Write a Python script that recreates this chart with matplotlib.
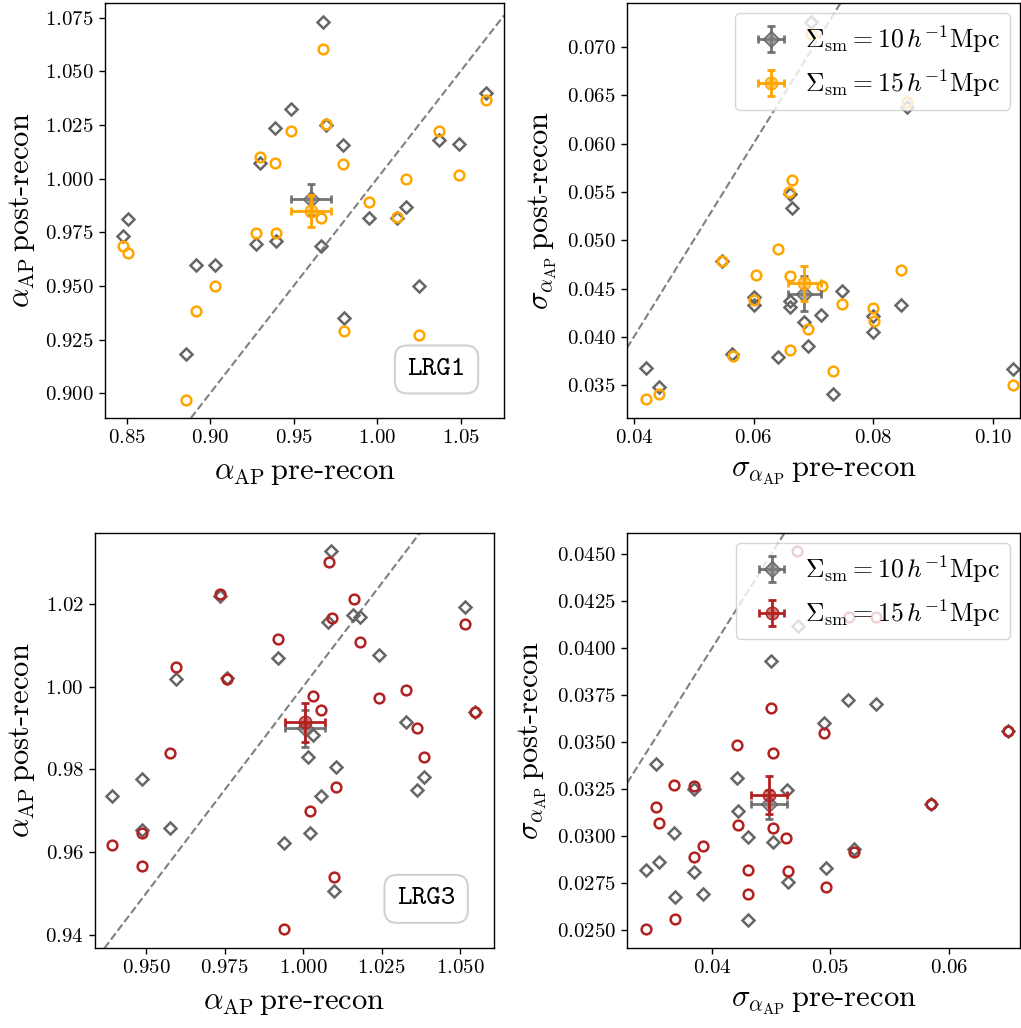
import numpy as np
import matplotlib
matplotlib.use("Agg")
import matplotlib.pyplot as plt
from matplotlib.ticker import MultipleLocator
from matplotlib.colors import to_rgba

plt.rcParams['font.family'] = 'serif'
plt.rcParams['font.serif'] = ['cmr10']
plt.rcParams['mathtext.fontset'] = 'cm'
plt.rcParams['axes.formatter.use_mathtext'] = True
plt.rcParams['axes.unicode_minus'] = False

# ---- LRG1: alpha_AP (smoothing 10 vs 15 Mpc/h) ----
lrg1_a_pre_10 = [0.9678, 1.065, 0.9484, 0.9388, 0.9692, 0.9795, 1.0368, 1.0488, 0.930, 0.851, 0.8476,
                 0.9274, 0.9394, 0.9664, 0.9953, 1.0117, 1.0173, 0.8913, 0.9027, 1.0249, 0.9803, 0.8857]
lrg1_a_post_10 = [1.0731, 1.0398, 1.0323, 1.0236, 1.0250, 1.0155, 1.0179, 1.0161, 1.0074, 0.9812, 0.9734,
                  0.9694, 0.9710, 0.9688, 0.9817, 0.9817, 0.9869, 0.9598, 0.9598, 0.9498, 0.9352, 0.9185]
lrg1_a_pre_15 = [0.9678, 1.065, 0.9484, 0.9692, 1.0368, 0.930, 0.9388, 0.9795, 1.0173, 1.0488, 0.9953,
                 1.0117, 0.9664, 0.9274, 0.9394, 0.8476, 0.851, 0.9027, 0.8913, 0.9803, 1.0249, 0.8857]
lrg1_a_post_15 = [1.0604, 1.0365, 1.0224, 1.0253, 1.0222, 1.0101, 1.0071, 1.0068, 1.0000, 1.0019, 0.9891,
                  0.9821, 0.9817, 0.9745, 0.9745, 0.9686, 0.9654, 0.9501, 0.9383, 0.9289, 0.9270, 0.8969]
lrg1_a_mean_10 = (0.9602, 0.9904, 0.0119, 0.0073)   # x, y, xerr, yerr
lrg1_a_mean_15 = (0.9602, 0.9849, 0.0120, 0.0073)

# ---- LRG1: sigma alpha_AP ----
lrg1_s_pre_10 = [0.06958, 0.08558, 0.06608, 0.06648, 0.0547, 0.06006, 0.06006, 0.06608, 0.06608, 0.07482,
                 0.07133, 0.06851, 0.06907, 0.06411, 0.05639, 0.0800, 0.0800, 0.08468, 0.04197, 0.04423,
                 0.07324, 0.10327]
lrg1_s_post_10 = [0.07258, 0.06381, 0.05476, 0.05338, 0.04787, 0.04409, 0.04330, 0.04368, 0.04309, 0.04478,
                  0.04230, 0.04151, 0.03903, 0.03789, 0.03827, 0.04220, 0.04048, 0.04333, 0.03680, 0.03483,
                  0.03411, 0.03669]
lrg1_s_pre_15 = [0.06958, 0.08558, 0.06648, 0.06597, 0.06411, 0.0547, 0.06034, 0.06608, 0.07144, 0.08468,
                 0.06006, 0.07482, 0.0800, 0.08017, 0.06907, 0.06608, 0.05651, 0.07324, 0.04197, 0.04423,
                 0.10327]
lrg1_s_post_15 = [0.07131, 0.06432, 0.05624, 0.05496, 0.04908, 0.04787, 0.04643, 0.04626, 0.04529, 0.04695,
                  0.04385, 0.04344, 0.04299, 0.04161, 0.04082, 0.03869, 0.03800, 0.03645, 0.03360, 0.03411,
                  0.03508]
lrg1_s_mean_10 = (0.06851, 0.04447, 0.0027, 0.0018)
lrg1_s_mean_15 = (0.06851, 0.04557, 0.0027, 0.0018)

# ---- LRG3: alpha_AP ----
lrg3_a_pre_10 = [1.00892, 0.97357, 1.0516, 1.00807, 1.01603, 1.01815, 0.99215, 1.02431, 0.95945, 0.97569,
                 1.05478, 1.0327, 1.00308, 1.00170, 1.01051, 1.03864, 1.0362, 1.00573, 0.93928, 0.94862,
                 0.94862, 0.95764, 0.99395, 1.00223, 1.00987]
lrg3_a_post_10 = [1.03282, 1.02202, 1.01935, 1.01573, 1.01734, 1.01677, 1.00685, 1.00766, 1.00177, 1.00202,
                  0.99387, 0.99153, 0.98831, 0.98306, 0.98064, 0.97822, 0.97500, 0.97355, 0.97363, 0.97758,
                  0.96532, 0.96572, 0.96209, 0.96451, 0.95064]
lrg3_a_pre_15 = [1.00818, 0.97357, 1.01635, 1.0516, 1.00913, 1.01815, 0.99215, 0.95945, 0.97569, 1.0328,
                 1.00308, 1.02431, 1.00573, 1.05478, 1.0362, 1.03864, 0.95764, 1.0104, 1.00223, 0.94862,
                 0.93928, 0.94883, 1.00987, 0.99395]
lrg3_a_post_15 = [1.03016, 1.02242, 1.02113, 1.01516, 1.01669, 1.01089, 1.01145, 1.00476, 1.00186, 0.99919,
                  0.99782, 0.99734, 0.99435, 0.99387, 0.98992, 0.98290, 0.98387, 0.97580, 0.97000, 0.96451,
                  0.96177, 0.95661, 0.95387, 0.94129]
lrg3_a_mean_10 = (1.00064, 0.98992, 0.0064, 0.0045)
lrg3_a_mean_15 = (1.00064, 0.99137, 0.0064, 0.0047)

# ---- LRG3: sigma alpha_AP ----
lrg3_s_pre_10 = [0.04722, 0.04499, 0.05148, 0.05388, 0.04945, 0.06502, 0.03523, 0.04209, 0.03848, 0.04632,
                 0.04217, 0.05851, 0.03678, 0.04307, 0.04513, 0.05202, 0.03551, 0.03439, 0.03848, 0.04962,
                 0.04640, 0.03687, 0.03921, 0.04302]
lrg3_s_post_10 = [0.04119, 0.03931, 0.03723, 0.03704, 0.03600, 0.03557, 0.03385, 0.03307, 0.03252, 0.03245,
                  0.03135, 0.03169, 0.03018, 0.02993, 0.02966, 0.02929, 0.02864, 0.02819, 0.02810, 0.02828,
                  0.02757, 0.02674, 0.02690, 0.02553]
lrg3_s_pre_15 = [0.04717, 0.05154, 0.05388, 0.04499, 0.04945, 0.06502, 0.04209, 0.04511, 0.03678, 0.03848,
                 0.03523, 0.05851, 0.03554, 0.04217, 0.04511, 0.04626, 0.03921, 0.03848, 0.05202, 0.04302,
                 0.04640, 0.04962, 0.04302, 0.03687, 0.03439]
lrg3_s_post_15 = [0.04516, 0.04163, 0.04167, 0.03679, 0.03546, 0.03557, 0.03482, 0.03440, 0.03271, 0.03266,
                  0.03156, 0.03170, 0.03071, 0.03057, 0.03041, 0.02991, 0.02947, 0.02887, 0.02917, 0.02819,
                  0.02812, 0.02729, 0.02692, 0.02557, 0.02504]
lrg3_s_mean_10 = (0.04482, 0.03168, 0.0015, 0.00076)
lrg3_s_mean_15 = (0.04482, 0.03218, 0.0015, 0.0010)

GRAY = '#666666'
ORANGE = 'orange'
RED = 'firebrick'

fig = plt.figure(figsize=(10.21, 10.28), dpi=100)
ax1 = fig.add_axes([0.1028, 0.5934, 0.3908, 0.4037])
ax2 = fig.add_axes([0.6141, 0.5934, 0.3849, 0.4037])
ax3 = fig.add_axes([0.0928, 0.0775, 0.3911, 0.4043])
ax4 = fig.add_axes([0.6144, 0.0775, 0.3849, 0.4043])


def panel(ax, x10, y10, x15, y15, m10, m15, col):
    ax.axline((0, 0), slope=1, color='gray', ls='--', lw=1.5, zorder=1)
    ax.plot(x10, y10, ls='none', marker='D', ms=6, mfc='none', mec=GRAY, mew=1.8, zorder=2)
    ax.plot(x15, y15, ls='none', marker='o', ms=7, mfc='none', mec=col, mew=1.8, zorder=3)
    h10 = ax.errorbar(m10[0], m10[1], xerr=m10[2], yerr=m10[3], fmt='D', ms=8,
                      color=GRAY, mfc=to_rgba('gray', 0.75), mec=GRAY, ecolor=to_rgba(GRAY, 0.9),
                      elinewidth=2, capsize=3, capthick=2, zorder=4,
                      label=r'$\Sigma_{\rm sm} = 10\,h^{-1}{\rm Mpc}$')
    h15 = ax.errorbar(m15[0], m15[1], xerr=m15[2], yerr=m15[3], fmt='o', ms=9,
                      color=col, mfc=to_rgba(col, 0.6), mec=col, ecolor=col,
                      elinewidth=2, capsize=3, capthick=2, zorder=5,
                      label=r'$\Sigma_{\rm sm} = 15\,h^{-1}{\rm Mpc}$')
    ax.tick_params(labelsize=15, length=4.5, width=1)
    for s in ax.spines.values():
        s.set_linewidth(1.0)
    return h10, h15


panel(ax1, lrg1_a_pre_10, lrg1_a_post_10, lrg1_a_pre_15, lrg1_a_post_15,
      lrg1_a_mean_10, lrg1_a_mean_15, ORANGE)
panel(ax2, lrg1_s_pre_10, lrg1_s_post_10, lrg1_s_pre_15, lrg1_s_post_15,
      lrg1_s_mean_10, lrg1_s_mean_15, ORANGE)
panel(ax3, lrg3_a_pre_10, lrg3_a_post_10, lrg3_a_pre_15, lrg3_a_post_15,
      lrg3_a_mean_10, lrg3_a_mean_15, RED)
panel(ax4, lrg3_s_pre_10, lrg3_s_post_10, lrg3_s_pre_15, lrg3_s_post_15,
      lrg3_s_mean_10, lrg3_s_mean_15, RED)

ax1.set_xlim(0.837, 1.076)
ax1.set_ylim(0.8885, 1.0818)
ax1.xaxis.set_major_locator(MultipleLocator(0.05))
ax1.yaxis.set_major_locator(MultipleLocator(0.025))

ax2.set_xlim(0.03887, 0.1045)
ax2.set_ylim(0.03163, 0.07454)
ax2.xaxis.set_major_locator(MultipleLocator(0.02))
ax2.yaxis.set_major_locator(MultipleLocator(0.005))

ax3.set_xlim(0.93365, 1.06083)
ax3.set_ylim(0.93669, 1.03726)
ax3.xaxis.set_major_locator(MultipleLocator(0.025))
ax3.yaxis.set_major_locator(MultipleLocator(0.02))

ax4.set_xlim(0.03283, 0.06604)
ax4.set_ylim(0.02403, 0.04613)
ax4.xaxis.set_major_locator(MultipleLocator(0.01))
ax4.yaxis.set_major_locator(MultipleLocator(0.0025))

for ax in (ax1, ax3):
    ax.set_xlabel(r'$\alpha_{\rm AP}\,$pre-recon', fontsize=22, labelpad=9)
    ax.set_ylabel(r'$\alpha_{\rm AP}\,$post-recon', fontsize=22, labelpad=6)
for ax in (ax2, ax4):
    ax.set_xlabel(r'$\sigma_{\alpha_{\rm AP}}\,$pre-recon', fontsize=22, labelpad=9)
    ax.set_ylabel(r'$\sigma_{\alpha_{\rm AP}}\,$post-recon', fontsize=22, labelpad=6)
    leg = ax.legend(loc='upper right', fontsize=18.5, handletextpad=0.3, borderaxespad=0.4)
    leg.set_zorder(10)

box = dict(boxstyle='round,pad=0.45', fc='white', ec='#cccccc', lw=1.5, alpha=0.9)
ax1.text(0.831, 0.117, 'LRG1', transform=ax1.transAxes, ha='center', va='center',
         family='cmtt10', fontsize=20, bbox=box, zorder=10)
ax3.text(0.830, 0.119, 'LRG3', transform=ax3.transAxes, ha='center', va='center',
         family='cmtt10', fontsize=20, bbox=box, zorder=10)

fig.savefig('out.png', dpi=100)
